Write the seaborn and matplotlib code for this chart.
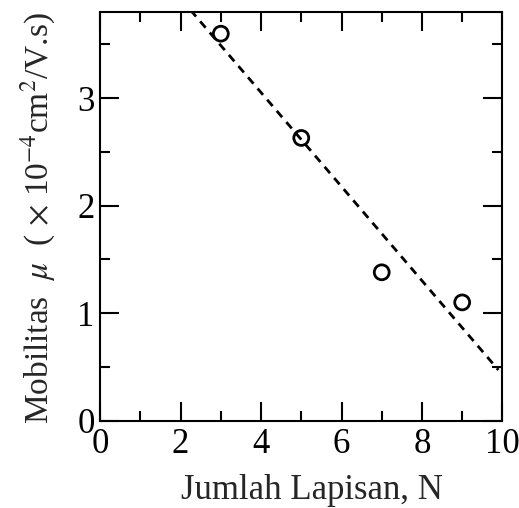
import numpy as np
import pandas as pd
import matplotlib
matplotlib.use("Agg")
import matplotlib.pyplot as plt
import seaborn as sns
from matplotlib.ticker import MultipleLocator

# Measured mobility for each number of layers
layers = [3, 5, 7, 9]
mobility = [3.60, 2.63, 1.38, 1.10]

x_ticks = [0, 2, 4, 6, 8, 10]
y_ticks = [0, 1, 2, 3]

df = pd.DataFrame({"N": layers, "mu": mobility})

sns.set_theme(style="ticks")
plt.rcParams["font.family"] = ["Liberation Serif", "DejaVu Serif"]
plt.rcParams["mathtext.fontset"] = "stix"

fig = plt.figure(figsize=(5.19, 5.08), dpi=100)
ax = fig.add_axes([0.193, 0.172, 0.775, 0.804])

# Least-squares trend line through the measurements
slope, intercept = np.polyfit(layers, mobility, 1)
line_x = np.array([1.5, 9.9])
sns.lineplot(x=line_x, y=slope * line_x + intercept, ax=ax, color="black",
             linewidth=2.0, linestyle=(0, (3.0, 2.3)))

sns.scatterplot(data=df, x="N", y="mu", ax=ax, marker="o", s=115,
                facecolor="none", edgecolor="black", linewidth=2.0, zorder=3)

ax.set_xlim(0, 10)
ax.set_ylim(0, 3.8)
ax.set_xticks(x_ticks)
ax.set_yticks(y_ticks)
ax.xaxis.set_minor_locator(MultipleLocator(1))
ax.yaxis.set_minor_locator(MultipleLocator(0.5))
ax.tick_params(which="both", direction="in", top=True, right=True,
               labelsize=25, width=1.5, colors="black")
ax.tick_params(axis="x", pad=5)
ax.tick_params(axis="y", pad=4)
ax.tick_params(which="major", length=14)
ax.tick_params(which="minor", length=7)
for sp in ax.spines.values():
    sp.set_linewidth(1.5)
    sp.set_color("black")

ax.set_xlabel("Jumlah Lapisan, N", fontsize=25, labelpad=10, x=0.527)
ax.set_ylabel(r"Mobilitas  $\mu$  ( $\times$ 10$^{-4}$cm$^{2}$/V.s)",
              fontsize=24, labelpad=14, y=0.496)

fig.savefig("out.png", dpi=100)
